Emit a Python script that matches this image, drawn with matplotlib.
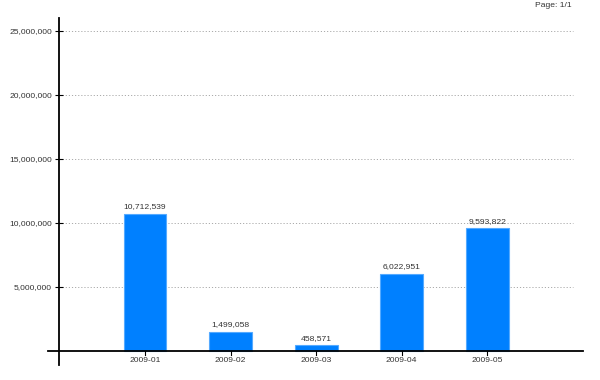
import matplotlib
matplotlib.use("Agg")
import matplotlib.pyplot as plt
from matplotlib.ticker import FuncFormatter

categories = ["2009-01", "2009-02", "2009-03", "2009-04", "2009-05"]
values = [10712539, 1499058, 458571, 6022951, 9593822]
yticks = [5000000, 10000000, 15000000, 20000000, 25000000]

plt.rcParams['font.family'] = ['Liberation Sans', 'DejaVu Sans']
txt_color = '#333333'
fs = 6.1

fig = plt.figure(figsize=(6, 3.8), dpi=100)
ax = fig.add_axes([59/600, 1-365/380, (583-59)/600, (365-18)/380])

x = list(range(len(categories)))
ax.bar(x, values, width=0.5, color='#0080FF', edgecolor='#55AAFF', linewidth=0.8, zorder=3)

for xi, v in zip(x, values):
    ax.annotate(f"{v:,}", (xi, v), xytext=(0, 2.5), textcoords='offset points',
                ha='center', va='bottom', fontsize=fs, color=txt_color)

ax.set_xlim(-1.006, 5.12)
ax.set_ylim(-1093750, 26015625)

# gridlines
ax.hlines(yticks, -1.006, 5.0, colors='#aaaaaa', linestyles=(0, (1.2, 2)), linewidth=0.7, zorder=1)

for s in ['top', 'right', 'bottom']:
    ax.spines[s].set_visible(False)
ax.spines['left'].set_linewidth(1.3)
ax.spines['left'].set_color('black')

# x axis line extending slightly left of y axis
ax.axhline(0, xmin=-0.021, xmax=1.0, color='black', linewidth=1.3, clip_on=False, zorder=4)

ax.set_yticks(yticks)
ax.yaxis.set_major_formatter(FuncFormatter(lambda v, p: f"{int(v):,}"))
ax.tick_params(axis='y', direction='inout', length=6, width=0.8, labelsize=fs, labelcolor=txt_color, pad=2)

ax.set_xticks([])
for xi, c in zip(x, categories):
    ax.plot([xi, xi], [0, -350000], color='black', linewidth=0.8, clip_on=False, zorder=4)
    ax.annotate(c, (xi, 0), xytext=(0, -4.5), textcoords='offset points',
                ha='center', va='top', fontsize=fs, color=txt_color, annotation_clip=False)

fig.text(572/600, 1-5.5/380, "Page: 1/1", ha='right', va='center', fontsize=fs, color=txt_color)

fig.savefig("out.png", dpi=100)
